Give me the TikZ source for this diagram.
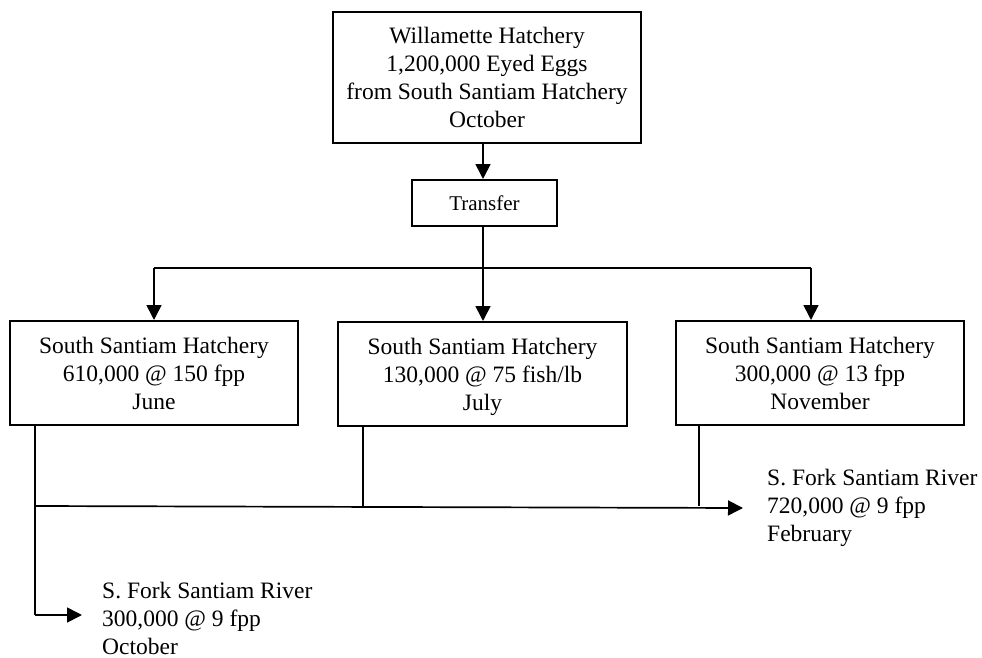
\documentclass[tikz,border=0pt]{standalone}
\usepackage{fontspec}
\setmainfont{Liberation Serif}
\usetikzlibrary{arrows.meta}
\tikzset{
  box/.style={draw, line width=2pt, align=center, inner sep=0pt, font=\fontsize{23.5pt}{28pt}\selectfont},
  smallbox/.style={draw, line width=2pt, align=center, inner sep=0pt, font=\fontsize{21pt}{25pt}\selectfont},
  freetext/.style={align=left, inner sep=0pt, anchor=west, font=\fontsize{23.5pt}{28pt}\selectfont},
  conn/.style={line width=1.7pt},
  arr/.style={conn, -{Triangle[length=15pt,width=15pt]}}
}
\begin{document}
\begin{tikzpicture}[x=1pt,y=-1pt]
\useasboundingbox (0,0) rectangle (982,658);
\node[box, minimum width=308pt, minimum height=131pt] (top) at (487,77.5)
  {Willamette Hatchery\\1,200,000 Eyed Eggs\\from South Santiam Hatchery\\October};
\node[smallbox, minimum width=145pt, minimum height=46pt] (tr) at (484.5,203) {Transfer};
\node[box, minimum width=288pt, minimum height=104pt] (b1) at (154,373)
  {South Santiam Hatchery\\610,000 @ 150 fpp\\June};
\node[box, minimum width=289pt, minimum height=104pt] (b2) at (482.5,374)
  {South Santiam Hatchery\\130,000 @ 75 fish/lb\\Jul\smash{y}};
\node[box, minimum width=288pt, minimum height=104pt] (b3) at (820,373)
  {South Santiam Hatchery\\300,000 @ 13 fpp\\November};
\node[freetext] (r1) at (767,508) {S. Fork Santiam River\\720,000 @ 9 fpp\\February};
\node[freetext] (r2) at (102,618) {S. Fork Santiam River\\300,000 @ 9 fpp\\October};
% coordinates
\coordinate (tj) at (483,268);
\coordinate (tl) at (154,268);
\coordinate (trr) at (811,268);
\coordinate (h1) at (35,506);
\coordinate (h2) at (363,506);
\coordinate (h3) at (699,506);
\coordinate (v1) at (35,615);
% connectors
\draw[arr] (top.south -| tj) -- (tr.north -| tj);
\draw[conn] (tr.south -| tj) -- (tj);
\draw[conn] (tl) -- (trr);
\draw[arr] (tl) -- (b1.north -| tl);
\draw[arr] (tj) -- (b2.north -| tj);
\draw[arr] (trr) -- (b3.north -| trr);
\draw[conn] (b1.south -| h1) -- (v1);
\draw[conn] (b2.south -| h2) -- (h2);
\draw[conn] (b3.south -| h3) -- (h3);
\draw[arr] (h1) -- ([xshift=-24pt]r1.west);
\draw[arr] (v1) -- ([xshift=-20pt]r2.west |- v1);
\end{tikzpicture}
\end{document}
